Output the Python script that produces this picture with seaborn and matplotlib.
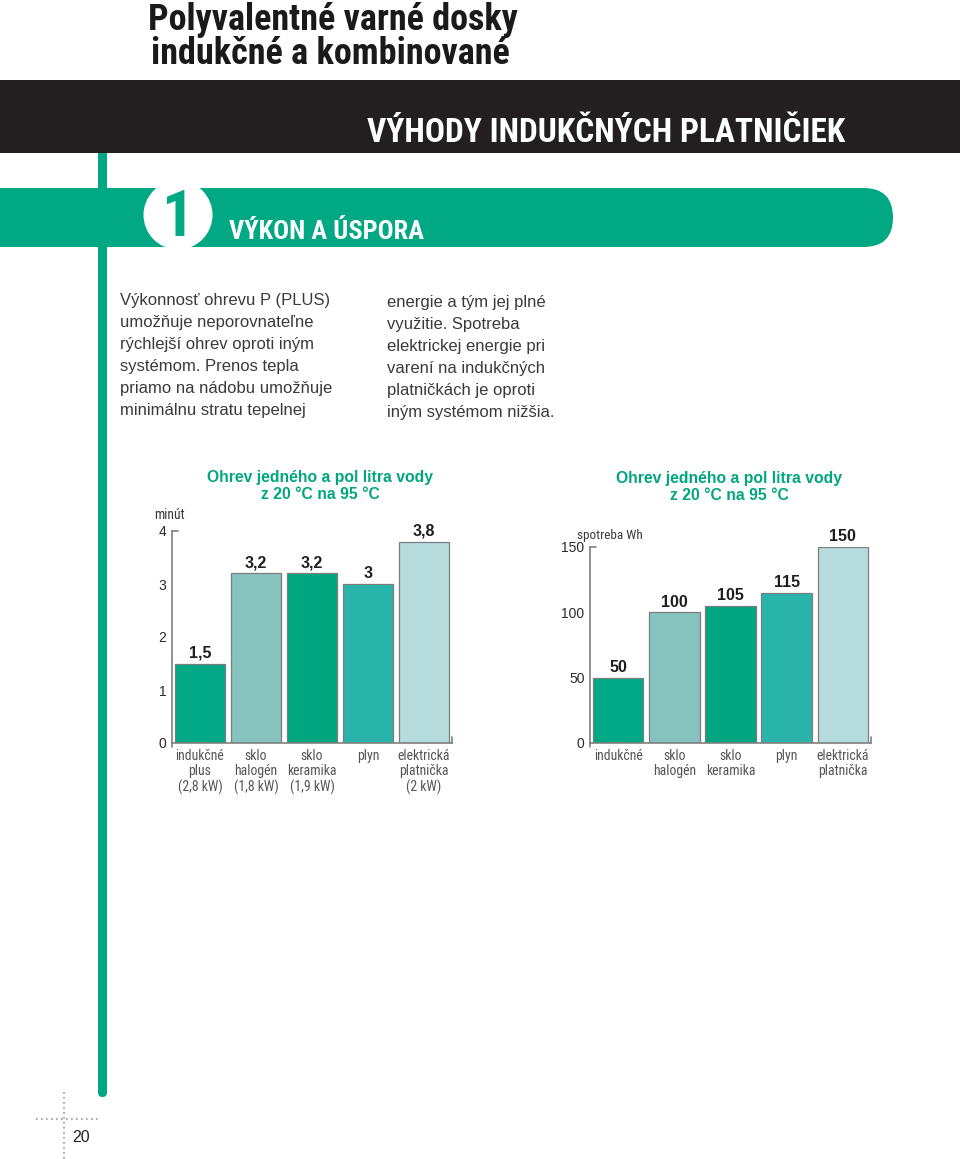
import os
import matplotlib
matplotlib.use("Agg")
import matplotlib.pyplot as plt
from matplotlib import font_manager
from matplotlib.font_manager import FontProperties
from matplotlib.patches import Rectangle, FancyBboxPatch, Circle
import seaborn as sns
import pandas as pd

# ---------------- data ----------------
categories_time = ["indukčné\nplus\n(2,8 kW)", "sklo\nhalogén\n(1,8 kW)",
                   "sklo\nkeramika\n(1,9 kW)", "plyn", "elektrická\nplatnička\n(2 kW)"]
minutes = [1.5, 3.2, 3.2, 3.0, 3.8]
yticks_time = [0, 1, 2, 3, 4]

categories_energy = ["indukčné", "sklo\nhalogén", "sklo\nkeramika", "plyn",
                     "elektrická\nplatnička"]
energy_wh = [50, 100, 105, 115, 150]
yticks_energy = [0, 50, 100, 150]

bar_colors = ["#00a886", "#86c3bf", "#00a67f", "#29b4a9", "#b6dbdc"]

page_title = "Polyvalentné varné dosky\nindukčné a kombinované"
band_title = "VÝHODY INDUKČNÝCH PLATNIČIEK"
section_title = "VÝKON A ÚSPORA"
section_number = "1"
body_left = ["Výkonnosť ohrevu P (PLUS)", "umožňuje neporovnateľne",
             "rýchlejší ohrev oproti iným", "systémom. Prenos tepla",
             "priamo na nádobu umožňuje", "minimálnu stratu tepelnej"]
body_right = ["energie a tým jej plné", "využitie. Spotreba",
              "elektrickej energie pri", "varení na indukčných",
              "platničkách je oproti", "iným systémom nižšia."]
chart_title = "Ohrev jedného a pol litra vody\nz 20 °C na 95 °C"
unit_time = "minút"
unit_energy = "spotreba Wh"
page_number = "20"

# ---------------- fonts ----------------
sns.set_style("white")
plt.rcParams["font.family"] = ["Liberation Sans", "DejaVu Sans"]

sys_fonts = font_manager.findSystemFonts()


def find_font(cands):
    low = {os.path.basename(p).lower(): p for p in sys_fonts}
    for c in cands:
        if c.lower() in low:
            return low[c.lower()]
    return None


COND_REG = find_font(["LiberationSansNarrow-Regular.ttf", "RobotoCondensed-Regular.ttf",
                      "NotoSans-Condensed.ttf", "DejaVuSansCondensed.ttf"])
COND_BOLD = find_font(["LiberationSansNarrow-Bold.ttf", "RobotoCondensed-Bold.ttf",
                       "NotoSans-CondensedBold.ttf", "DejaVuSansCondensed-Bold.ttf"])


def fp_reg(size):
    if COND_REG:
        return FontProperties(fname=COND_REG, size=size)
    return FontProperties(family="Liberation Sans", size=size, stretch="condensed")


def fp_bold(size):
    if COND_BOLD:
        return FontProperties(fname=COND_BOLD, size=size)
    return FontProperties(family="Liberation Sans", weight="bold", size=size)


GREEN = "#00a884"
TXT = "#3a3a3a"

W, H = 960, 1159
fig = plt.figure(figsize=(W / 100, H / 100), dpi=100)

bg = fig.add_axes([0, 0, 1, 1], zorder=0)
bg.set_xlim(0, W)
bg.set_ylim(H, 0)
bg.axis("off")

bg.add_patch(FancyBboxPatch((98, 140), 9, 957, boxstyle="round,pad=0,rounding_size=4.5",
                            fc=GREEN, ec="none", zorder=1))
bg.add_patch(Rectangle((0, 80), W, 73, fc="#231f20", ec="none", zorder=2))
bg.add_patch(FancyBboxPatch((-60, 188), 953, 59, boxstyle="round,pad=0,rounding_size=29.5",
                            fc=GREEN, ec="none", zorder=2))
bg.add_patch(Circle((178, 215), 34.5, fc="white", ec="none", zorder=3))
bg.text(177, 219, section_number, fontproperties=fp_bold(46), color=GREEN,
        ha="center", va="center", zorder=4)
bg.text(229, 232, section_title, fontproperties=fp_bold(19), color="white",
        ha="left", va="center", zorder=4)
bg.text(845, 133, band_title, fontproperties=fp_bold(24), color="white",
        ha="right", va="center", zorder=4)
t1, t2 = page_title.split("\n")
bg.text(148, 20, t1, fontproperties=fp_bold(26), color="#1a1a1a",
        ha="left", va="center", zorder=4)
bg.text(151, 54, t2, fontproperties=fp_bold(26), color="#1a1a1a",
        ha="left", va="center", zorder=4)

for i, line in enumerate(body_left):
    bg.text(120, 300 + i * 22.1, line, fontsize=12, color=TXT, ha="left", va="center")
for i, line in enumerate(body_right):
    bg.text(387, 302 + i * 22.1, line, fontsize=12, color=TXT, ha="left", va="center")

bg.text(320, 486, chart_title, fontsize=11.3, fontweight="bold", color="#00a67e",
        ha="center", va="center", linespacing=1.2)
bg.text(729, 487, chart_title, fontsize=11.3, fontweight="bold", color="#00a67e",
        ha="center", va="center", linespacing=1.2)
bg.text(154, 515, unit_time, fontproperties=fp_reg(9.8), color=TXT, ha="left", va="center")
bg.text(577, 535, unit_energy, fontproperties=fp_reg(9.5), color=TXT, ha="left", va="center")

bg.plot([64, 64], [1092, 1159], color="#9a9a9a", lw=1.2, ls=(0, (1, 2)), zorder=1)
bg.plot([36, 101], [1119, 1119], color="#9a9a9a", lw=1.2, ls=(0, (1, 2)), zorder=1)
bg.text(72, 1138, page_number, fontsize=11.5, color="#222222", ha="left", va="center")


def fx(px):
    return px / W


def fy(py):
    return 1 - py / H


def draw_chart(ax, cats, values, ymax, yticks):
    df = pd.DataFrame({"cat": cats, "val": values})
    sns.barplot(data=df, x="cat", y="val", hue="cat", palette=bar_colors, ax=ax,
                width=0.9, edgecolor="#7d7d7d", linewidth=0.9, saturation=1,
                legend=False, dodge=False)
    for cont, v in zip(ax.containers, values):
        ax.bar_label(cont, labels=[f"{v:g}".replace(".", ",")], padding=2,
                     fontsize=11.5, fontweight="bold", color="#1e1e1e")
    ax.set_ylim(0, ymax)
    ax.set_xlim(-0.5, 4.5)
    ax.set_yticks(yticks)
    ax.set_yticklabels([str(t) for t in yticks])
    ax.set_xlabel("")
    ax.set_ylabel("")
    for s in ["top", "right"]:
        ax.spines[s].set_visible(False)
    for s in ["left", "bottom"]:
        ax.spines[s].set_color("#808080")
        ax.spines[s].set_linewidth(1.2)
    ax.tick_params(axis="y", length=0, pad=4, labelsize=10, labelcolor="#2a2a2a")
    ax.tick_params(axis="x", length=0, pad=4, labelcolor="#555555")
    for lab in ax.get_xticklabels():
        lab.set_fontproperties(fp_reg(9.9))
        lab.set_linespacing(1.15)
        lab.set_va("top")
    ax.plot([0, 0.02], [1, 1], transform=ax.transAxes, color="#808080", lw=1.2, clip_on=False)
    ax.plot([1, 1], [0, 0.03], transform=ax.transAxes, color="#808080", lw=1.2, clip_on=False)
    ax.plot([0, 0], [0, -0.02], transform=ax.transAxes, color="#808080", lw=1.2, clip_on=False)
    ax.set_facecolor("none")


ax1 = fig.add_axes([fx(172), fy(743), fx(452) - fx(172), fy(531) - fy(743)], zorder=5)
draw_chart(ax1, categories_time, minutes, 4, yticks_time)

ax2 = fig.add_axes([fx(590), fy(743), fx(871) - fx(590), fy(547) - fy(743)], zorder=5)
draw_chart(ax2, categories_energy, energy_wh, 150, yticks_energy)

fig.savefig("out.png", dpi=100)
